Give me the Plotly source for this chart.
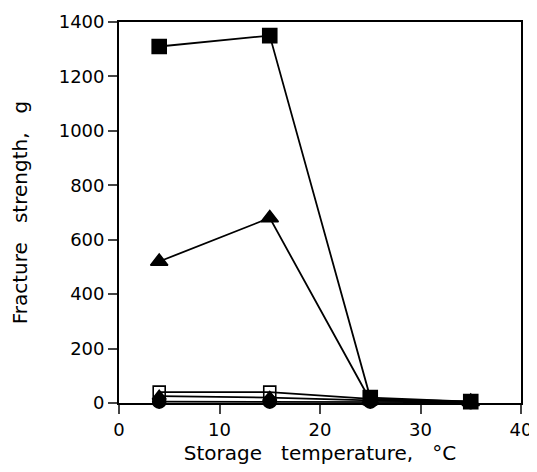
import plotly.graph_objects as go

temps = [4, 15, 25, 35]
sq_filled = [1310, 1350, 20, 5]
tri_filled = [520, 680, 10, 5]
sq_open = [40, 40, 15, 5]
tri_small = [25, 20, 10, 3]
circ_filled = [5, 5, 5, 3]

x_ticks = [0, 10, 20, 30, 40]
y_ticks = [0, 200, 400, 600, 800, 1000, 1200, 1400]

FONT = "DejaVu Sans"
NB = "\u00a0"
fig = go.Figure()

def add(y, symbol, size):
    fig.add_trace(go.Scatter(
        x=temps, y=y, mode="lines+markers",
        line=dict(color="black", width=1.8),
        marker=dict(symbol=symbol, size=size, color="black",
                    line=dict(color="black", width=1.6)),
        showlegend=False, cliponaxis=False))

add(circ_filled, "circle", 13)
add(tri_small, "triangle-up", 12)
add(sq_open, "square-open", 12)
add(tri_filled, "triangle-up", 15)
add(sq_filled, "square", 14)

# page body has an 8px margin, so the figure is drawn 8px smaller and offset
fig.update_layout(
    width=529, height=464,
    margin=dict(l=111, r=16, t=14, b=69),
    paper_bgcolor="white", plot_bgcolor="white",
    font=dict(family=FONT, size=18, color="black"),
)
fig.update_xaxes(
    range=[0, 40], tickvals=x_ticks, ticks="outside", ticklen=9, tickwidth=1.5,
    showline=True, linecolor="black", linewidth=1.8, mirror=True,
    showgrid=False, zeroline=False, automargin=False,
    title=dict(text=f"Storage{NB*3}temperature,{NB*3}°C", standoff=7,
               font=dict(family=FONT, size=20)),
    tickfont=dict(family=FONT, size=18),
)
fig.update_yaxes(
    range=[0, 1400], tickvals=y_ticks, ticks="outside", ticklen=9, tickwidth=1.5,
    showline=True, linecolor="black", linewidth=1.8, mirror=True,
    showgrid=False, zeroline=False, automargin=False,
    title=dict(text=f"Fracture{NB*3}strength,{NB*3}g", standoff=26,
               font=dict(family=FONT, size=20)),
    tickfont=dict(family=FONT, size=18),
)

fig.write_html("out.html")
